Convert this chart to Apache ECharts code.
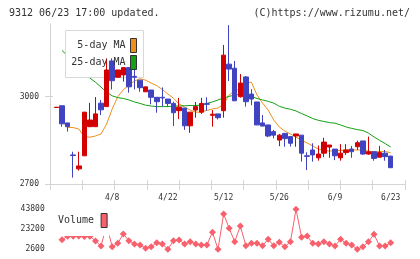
<!DOCTYPE html>
<html>
<head>
<meta charset="utf-8">
<script src="https://cdn.jsdelivr.net/npm/echarts@6/dist/echarts.min.js"></script>
<style>
  html, body { margin: 0; padding: 0; background: #fff; }
  #chart { width: 420px; height: 259px; }
</style>
</head>
<body>
<div id="chart"></div>
<script>
// trading days (M/D), labels shown every 10th day
const dates = ['3/25','3/26','3/27','3/28','3/31','4/1','4/2','4/3','4/4','4/7',
  '4/8','4/9','4/10','4/11','4/14','4/15','4/16','4/17','4/18','4/21',
  '4/22','4/23','4/24','4/25','4/28','5/1','5/2','5/7','5/8','5/9',
  '5/12','5/13','5/14','5/15','5/16','5/19','5/20','5/21','5/22','5/23',
  '5/26','5/27','5/28','5/29','5/30','6/2','6/3','6/4','6/5','6/6',
  '6/9','6/10','6/11','6/12','6/13','6/16','6/17','6/18','6/19','6/20',
  '6/23'];

// [open, close, low, high]
const candles = [
  [2963,2964,2963,2964],[2969,2907,2897,2969],[2910,2897,2880,2910],[2800,2798,2722,2811],[2752,2762,2746,2811],
  [2797,2947,2797,2947],[2897,2920,2897,2979],[2897,2941,2897,2999],[2978,2955,2937,2989],[2966,3092,2966,3132],
  [3123,3055,3025,3132],[3067,3092,3067,3092],[3075,3100,3052,3100],[3100,3034,3014,3100],[3070,3067,3025,3111],
  [3057,3031,3017,3057],[3017,3034,3017,3034],[3023,2998,2974,3023],[2998,2983,2945,2998],[2998,2996,2966,3032],
  [2992,2977,2966,2992],[2977,2945,2899,2983],[2952,2964,2923,2996],[2961,2900,2886,2961],[2900,2947,2876,2947],
  [2954,2966,2928,2982],[2947,2977,2941,2996],[2976,2974,2952,2998],[2936,2940,2897,2954],[2941,2928,2922,2941],
  [2952,3143,2928,3178],[3112,3095,3054,3246],[3098,2986,2986,3123],[3000,3047,2997,3078],[3068,2983,2966,3071],
  [3009,2992,2971,3026],[2982,2903,2903,2982],[2910,2899,2899,2937],[2903,2865,2861,2903],[2880,2868,2857,2886],
  [2851,2868,2830,2872],[2874,2856,2828,2874],[2863,2840,2829,2863],[2865,2872,2828,2872],[2868,2806,2777,2868],
  [2797,2795,2748,2809],[2817,2800,2777,2840],[2790,2803,2780,2832],[2806,2844,2792,2859],[2827,2834,2790,2834],
  [2820,2797,2782,2820],[2790,2806,2780,2837],[2808,2817,2800,2837],[2820,2811,2790,2831],[2828,2842,2817,2849],
  [2848,2803,2800,2848],[2803,2811,2800,2863],[2811,2788,2780,2811],[2792,2808,2792,2831],[2806,2794,2780,2817],
  [2796,2756,2756,2796]
];

const ma5 = [null,2916,2895,2894,2889,2862,2861,2865,2872,2906,
  2958,3000,3024,3040,3054,3062,3057,3047,3038,3025,
  3009,2995,2975,2965,2954,2947,2947,2953,2958,2961,
  2975,3006,3020,3026,3047,3050,3006,2978,2954,2920,
  2896,2882,2872,2861,2851,2841,2831,2820,2817,2813,
  2815,2815,2817,2817,2817,2817,2813,2810,2812,2812,
  2807];

const ma25 = [null,3159,3140,3123,3102,3081,3064,3050,3033,3016,
  3003,2997,2994,2989,2982,2977,2971,2968,2966,2966,
  2966,2968,2968,2969,2970,2970,2971,2977,2982,2989,
  2996,3001,3006,3008,3004,3001,2994,2989,2984,2978,
  2967,2961,2957,2951,2942,2934,2925,2919,2915,2911,
  2909,2903,2896,2891,2887,2884,2875,2862,2850,2839,
  2827];

const volume = [null,11900,15600,15400,15800,15300,15600,10600,5400,27000,
  4700,8200,17850,10900,7480,6440,3000,4680,8830,7480,
  2000,10900,11630,7480,9860,7480,6440,6440,19620,2000,
  38610,23770,9860,26160,5710,8200,8200,5710,12360,5710,
  9240,4680,9860,43500,14430,15780,8200,7480,9860,7480,
  5400,12360,8200,6440,2000,4680,9860,17540,5400,5400,
  8830];

const priceTicks = [2700, 3000];
const volumeTicks = [2600, 23200, 43800];

const UP = '#d20000';
const DOWN = '#4044c0';
const AXIS = '#d4d4d4';
const FONT = 'DejaVu Sans Mono';

const chart = echarts.init(document.getElementById('chart'));

const legendBase = {
    orient: 'horizontal',
    align: 'right',
    icon: 'rect',
    itemWidth: 6,
    itemHeight: 14,
    padding: 0,
    selectedMode: false,
    z: 10,
    itemStyle: { borderColor: '#333', borderWidth: 1 },
    textStyle: { fontFamily: FONT, fontSize: 10, color: '#333' },
};

// plain numbers, no thousands separator
const plain = (v) => String(v);

const option = {
    animation: false,
    backgroundColor: '#fff',
    title: [
        { text: '9312 06/23 17:00 updated.', left: 9, top: 8, padding: 0,
          textStyle: { fontFamily: FONT, fontSize: 10, fontWeight: 'normal', color: '#333' } },
        { text: '(C)https://www.rizumu.net/', right: 10, top: 8, padding: 0,
          textStyle: { fontFamily: FONT, fontSize: 10, fontWeight: 'normal', color: '#333' } },
    ],
    legend: [
        Object.assign({}, legendBase, { data: ['5-day MA'], right: 283, top: 38 }),
        Object.assign({}, legendBase, { data: ['25-day MA'], right: 283, top: 55 }),
        Object.assign({}, legendBase, {
            data: ['Volume'], left: 56, top: 207,
            padding: [6, 2, 8, 2],
            backgroundColor: '#fff',
            textStyle: { fontFamily: FONT, fontSize: 10, color: '#333', padding: [0, 2, 0, 0] },
        }),
    ],
    graphic: [{
        type: 'rect',
        z: 3,
        shape: { x: 65.5, y: 30.5, width: 78, height: 47 },
        style: { fill: '#fff', stroke: '#d8d8d8', lineWidth: 1 },
    }],
    grid: [
        { left: 53.7, right: 26.5, top: 24, bottom: 75 },   // candles
        { left: 50, right: 15, top: 24, bottom: 75 },       // frame & ticks
        { left: 53.7, right: 26.5, top: 207.8, bottom: 7.8 }, // volume
    ],
    xAxis: [
        {
            type: 'category', gridIndex: 0, data: dates, boundaryGap: true,
            axisLine: { show: false }, axisTick: { show: false },
            axisLabel: {
                interval: (i) => i > 0 && i % 10 === 0,
                margin: 10, fontFamily: FONT, fontSize: 8, color: '#333',
            },
        },
        {
            type: 'value', gridIndex: 1, min: 0, max: 11, interval: 1, position: 'bottom',
            axisLine: { lineStyle: { color: AXIS } },
            axisTick: { length: 6, lineStyle: { color: AXIS } },
            axisLabel: { show: false }, splitLine: { show: false },
        },
        {
            type: 'value', gridIndex: 1, min: 0, max: 11, interval: 1, position: 'bottom',
            axisLine: { show: false },
            axisTick: { inside: true, length: 4, lineStyle: { color: AXIS } },
            axisLabel: { show: false }, splitLine: { show: false },
        },
        {
            type: 'category', gridIndex: 2, data: dates, boundaryGap: true, show: false,
        },
    ],
    yAxis: [
        { type: 'value', gridIndex: 0, min: 2700, max: 3250, show: false },
        {
            type: 'value', gridIndex: 1, min: 2700, max: 3250, position: 'left',
            axisLine: { show: true, lineStyle: { color: AXIS } },
            axisTick: { show: true, length: 5, customValues: priceTicks, lineStyle: { color: AXIS } },
            axisLabel: { customValues: priceTicks, formatter: plain, margin: 11, fontFamily: FONT, fontSize: 8, color: '#333' },
            splitLine: { show: false },
        },
        {
            type: 'value', gridIndex: 1, min: 2700, max: 3250, position: 'left',
            axisLine: { show: false },
            axisTick: { show: true, inside: true, length: 3, customValues: priceTicks, lineStyle: { color: AXIS } },
            axisLabel: { show: false }, splitLine: { show: false },
        },
        {
            type: 'value', gridIndex: 2, min: 0, max: 45000, position: 'left',
            axisLine: { show: false }, axisTick: { show: false },
            axisLabel: { customValues: volumeTicks, formatter: plain, margin: 9, fontFamily: FONT, fontSize: 8, color: '#333' },
            splitLine: { show: false },
        },
    ],
    series: [
        {
            name: 'price', type: 'candlestick', xAxisIndex: 0, yAxisIndex: 0, z: 5,
            barWidth: 5, data: candles,
            itemStyle: { color: UP, color0: DOWN, borderColor: UP, borderColor0: DOWN, borderWidth: 1 },
        },
        {
            name: '5-day MA', type: 'line', xAxisIndex: 0, yAxisIndex: 0, z: 2,
            data: ma5, symbol: 'none', color: '#f0901c',
            lineStyle: { width: 1, color: '#f0901c' },
        },
        {
            name: '25-day MA', type: 'line', xAxisIndex: 0, yAxisIndex: 0, z: 2,
            data: ma25, symbol: 'none', color: '#14a014',
            lineStyle: { width: 1, color: '#14a014' },
        },
        {
            name: 'Volume', type: 'line', xAxisIndex: 3, yAxisIndex: 3, z: 2,
            data: volume, symbol: 'diamond', symbolSize: 7, showAllSymbol: true,
            color: '#f7606c',
            lineStyle: { width: 1, color: '#f7606c' },
            itemStyle: { color: '#f7606c' },
        },
    ],
};

chart.setOption(option);
</script>
</body>
</html>
